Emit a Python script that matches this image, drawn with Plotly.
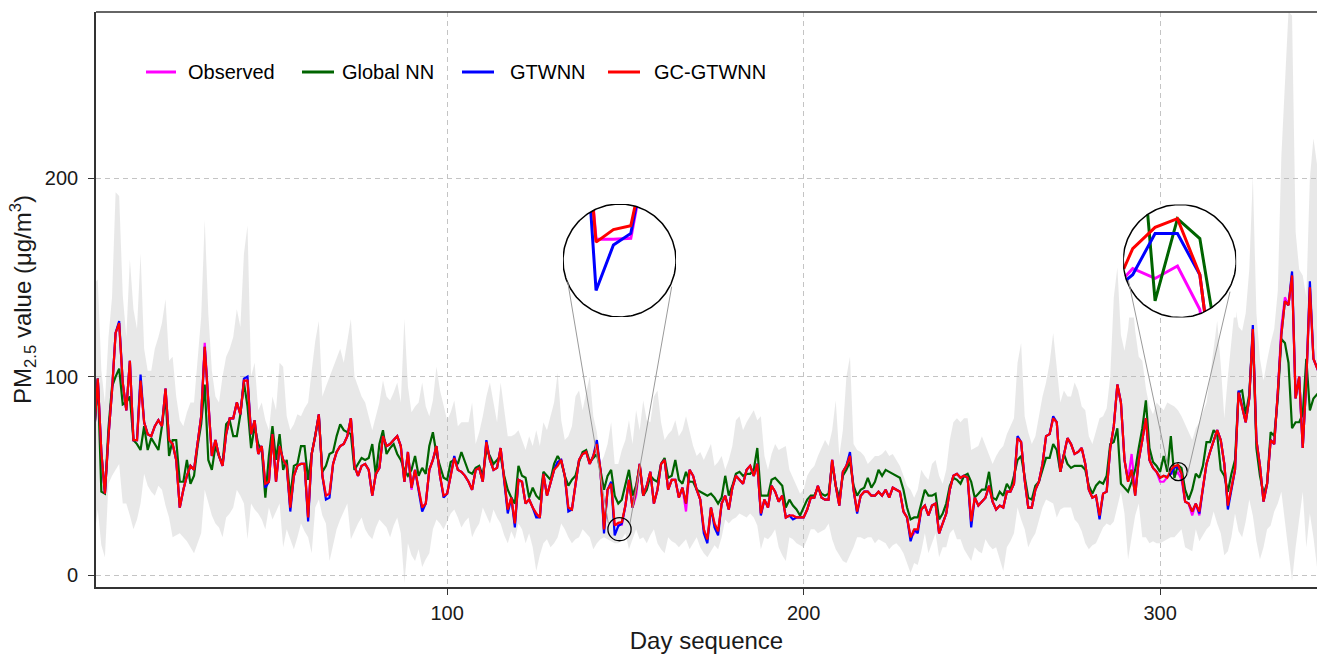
import math
import plotly.graph_objects as go

# ---------------- data ----------------
days = list(range(1, 346))

gc_gtwnn = [
    72, 99, 62, 41, 70, 93, 122, 127, 97, 83,
    108, 68, 68, 98, 77, 71, 70, 75, 78, 75,
    94, 68, 66, 58, 34, 43, 50, 55, 53, 66,
    80, 115, 87, 60, 68, 60, 55, 71, 79, 79,
    87, 81, 98, 98, 71, 78, 61, 65, 46, 47,
    71, 47, 65, 58, 55, 34, 50, 55, 56, 56,
    29, 61, 70, 81, 50, 40, 41, 56, 62, 65,
    66, 70, 79, 55, 50, 55, 56, 53, 40, 51,
    54, 70, 65, 66, 68, 70, 65, 47, 62, 44,
    53, 43, 34, 36, 53, 58, 65, 50, 40, 41,
    51, 59, 53, 52, 50, 47, 43, 53, 54, 47,
    67, 58, 53, 54, 64, 48, 33, 39, 26, 48,
    47, 36, 38, 34, 31, 29, 51, 40, 46, 53,
    55, 58, 50, 34, 33, 45, 58, 61, 62, 56,
    60, 66, 53, 23, 43, 46, 25, 26.3, 26.7, 35,
    48, 34, 43, 56, 40, 45, 52, 36, 43, 56,
    58, 43, 48, 48, 39, 44, 36, 53, 50, 43,
    38, 23, 18, 34, 26, 22, 36, 40, 33, 44,
    50, 48, 46, 53, 55, 50, 56, 31, 38, 34,
    45, 42, 37, 40, 29, 30, 30, 29, 29, 29,
    33, 39, 39, 45, 39, 38, 38, 58, 45, 35,
    52, 55, 60, 43, 32, 40, 42, 42, 40, 40,
    42, 40, 43, 39, 44, 43, 42, 32, 29, 19,
    23, 23, 33, 35, 30, 35, 36, 21, 26, 31,
    43, 50, 51, 49, 50, 49, 27, 39, 35, 37,
    39, 45, 37, 33, 35, 34, 42, 42, 46, 69,
    67, 48, 34, 34, 43, 47, 56, 70, 71, 79,
    77, 52, 60, 69, 66, 61, 62, 64, 56, 43,
    39, 40, 30, 41, 42, 64, 75, 96, 87, 58,
    47, 53, 40, 58, 68, 79, 58, 54, 52, 49,
    50, 49, 53.1, 54.8, 55.5, 51, 37, 36, 32, 36,
    32, 44, 56, 62, 68, 73, 68, 56, 35, 44,
    53, 92, 85, 77, 89, 124, 68, 55, 37, 46,
    68, 66, 92, 121, 138, 136, 151, 89, 100, 64,
    98, 145, 109, 104, 100,
]

observed = [
    72, 99, 62, 41, 70, 93, 122, 127, 97, 83,
    108, 68, 68, 98, 77, 71, 70, 75, 78, 75,
    94, 68, 66, 58, 34, 43, 50, 55, 53, 66,
    80, 117, 87, 60, 68, 60, 55, 71, 79, 79,
    87, 81, 98, 98, 71, 78, 61, 65, 46, 47,
    71, 47, 65, 58, 55, 34, 50, 55, 56, 56,
    29, 61, 70, 81, 50, 40, 41, 56, 62, 65,
    66, 70, 79, 55, 50, 55, 56, 53, 40, 51,
    54, 70, 65, 66, 68, 70, 65, 47, 62, 43,
    53, 43, 34, 36, 53, 58, 65, 50, 40, 41,
    51, 59, 53, 52, 50, 47, 43, 53, 54, 47,
    67, 58, 53, 54, 64, 48, 33, 39, 26, 48,
    47, 36, 38, 34, 31, 29, 51, 40, 46, 53,
    57, 58, 50, 34, 33, 45, 58, 61, 62, 56,
    60, 66, 53, 23, 43, 46, 25.3, 25.3, 25.4, 35,
    48, 34, 40, 56, 40, 45, 52, 36, 43, 56,
    58, 43, 48, 48, 39, 44, 32, 53, 50, 43,
    38, 23, 18, 34, 26, 22, 36, 40, 33, 44,
    50, 48, 46, 53, 55, 50, 56, 31, 38, 34,
    45, 42, 37, 40, 29, 30, 30, 29, 29, 29,
    33, 39, 39, 45, 39, 38, 38, 58, 45, 35,
    52, 55, 60, 43, 32, 40, 42, 42, 40, 40,
    42, 40, 43, 39, 44, 43, 42, 32, 29, 19,
    21, 23, 33, 35, 30, 35, 36, 21, 26, 31,
    43, 50, 51, 49, 50, 49, 27, 39, 35, 37,
    39, 45, 37, 33, 35, 34, 42, 42, 46, 69,
    67, 48, 34, 34, 43, 47, 56, 70, 71, 79,
    77, 52, 60, 69, 66, 61, 62, 64, 56, 43,
    39, 40, 30, 41, 42, 64, 75, 96, 87, 58,
    48, 61, 42, 58, 68, 79, 58, 54, 52, 47,
    47, 49.5, 51.5, 50.7, 51.7, 48.2, 37, 36, 30, 36,
    30, 44, 56, 62, 68, 73, 68, 56, 35, 44,
    53, 92, 85, 77, 89, 124, 68, 55, 37, 46,
    68, 66, 92, 125, 140, 136, 151, 89, 100, 64,
    98, 145, 109, 104, 100,
]

gtwnn = [
    72, 99, 62, 41, 70, 93, 122, 128, 97, 83,
    108, 68, 68, 101, 77, 71, 70, 75, 78, 75,
    94, 68, 66, 58, 34, 43, 50, 55, 53, 66,
    80, 115, 87, 60, 68, 60, 55, 71, 79, 79,
    87, 81, 99, 100, 71, 78, 61, 65, 44, 47,
    71, 47, 65, 58, 55, 32, 50, 55, 56, 56,
    27, 61, 70, 81, 50, 38, 39, 56, 62, 65,
    66, 70, 79, 55, 50, 55, 56, 53, 40, 51,
    54, 70, 65, 66, 68, 70, 65, 47, 62, 44,
    53, 43, 32, 36, 53, 58, 65, 50, 39, 41,
    51, 60, 53, 52, 50, 47, 43, 53, 54, 47,
    68, 58, 53, 54, 64, 48, 31, 39, 24, 48,
    47, 36, 38, 34, 29, 29, 51, 40, 46, 53,
    57, 58, 50, 32, 33, 45, 58, 61, 62, 56,
    60, 68, 53, 21, 43, 47, 20, 24.7, 25.9, 35,
    48, 34, 43, 56, 40, 45, 52, 36, 43, 56,
    58, 43, 48, 48, 39, 44, 36, 53, 50, 43,
    38, 21, 16, 34, 24, 20, 36, 40, 33, 44,
    50, 48, 46, 53, 55, 50, 56, 30, 38, 34,
    45, 42, 37, 40, 29, 30, 28, 29, 29, 29,
    33, 39, 39, 45, 39, 38, 38, 58, 45, 35,
    52, 55, 62, 43, 31, 40, 42, 42, 40, 40,
    42, 40, 43, 39, 44, 43, 42, 32, 29, 17,
    23, 21, 33, 35, 30, 35, 36, 21, 26, 31,
    43, 50, 51, 49, 50, 49, 24, 39, 35, 37,
    39, 45, 37, 33, 35, 34, 42, 42, 46, 70,
    67, 48, 34, 34, 43, 47, 56, 70, 71, 80,
    77, 52, 60, 69, 66, 61, 62, 64, 56, 43,
    39, 40, 28, 41, 42, 64, 75, 96, 87, 58,
    47, 53, 40, 58, 68, 79, 58, 54, 52, 49,
    50, 49.5, 51, 54.3, 54.3, 51, 37, 36, 32, 36,
    31, 44, 56, 62, 68, 73, 68, 56, 33, 44,
    53, 93, 85, 77, 89, 126, 68, 55, 37, 46,
    68, 66, 92, 121, 138, 136, 153, 89, 100, 64,
    98, 148, 109, 104, 100,
]

global_nn = [
    72, 99, 42, 41, 74, 95, 100, 104, 86, 87,
    90, 68, 66, 63, 75, 63, 69, 66, 63, 75,
    90, 60, 68, 68, 47, 47, 58, 46, 50, 65,
    76, 96, 58, 53, 65, 60, 56, 76, 78, 70,
    70, 81, 97, 85, 64, 75, 66, 63, 39, 60,
    75, 58, 71, 53, 58, 39, 55, 56, 65, 65,
    48, 61, 70, 80, 52, 55, 61, 62, 70, 76,
    73, 72, 71, 53, 56, 59, 58, 59, 66, 50,
    66, 73, 61, 64, 66, 61, 58, 53, 50, 53,
    60, 50, 54, 51, 65, 72, 61, 55, 49, 48,
    57, 58, 56, 62, 57, 52, 51, 54, 55, 50,
    63, 60, 56, 58, 60, 50, 43, 39, 36, 55,
    50, 49, 39, 44, 40, 38, 52, 50, 48, 56,
    60, 57, 50, 45, 48, 50, 57, 62, 63, 57,
    59, 61, 53, 43, 50, 53, 40, 36, 38, 46,
    53, 40, 45, 55, 40, 43, 50, 48, 47, 56,
    59, 49, 50, 58, 48, 46, 52, 47, 47, 43,
    42, 41, 40, 41, 39, 36, 39, 50, 40, 45,
    51, 52, 50, 51, 51, 53, 64, 40, 40, 40,
    48, 49, 47, 45, 34, 38, 35, 33, 30, 34,
    38, 40, 40, 44, 41, 40, 41, 56, 45, 39,
    50, 53, 57, 45, 40, 43, 44, 49, 44, 47,
    53, 50, 53, 52, 51, 50, 49, 43, 34, 28,
    29, 29, 36, 43, 40, 40, 41, 28, 31, 36,
    45, 49, 48, 46, 50, 51, 47, 39, 41, 43,
    43, 52, 39, 38, 42, 40, 46, 43, 50, 58,
    60, 50, 39, 38, 45, 47, 53, 59, 59, 66,
    63, 52, 61, 56, 54, 55, 55, 55, 53, 45,
    41, 45, 47, 46, 50, 66, 67, 74, 46, 44,
    42, 47, 53, 64, 74, 88, 64, 57, 55, 52,
    60, 52, 70, 48.9, 55.5, 53.9, 43, 38, 43, 51,
    49, 55, 67, 67, 73, 71, 53, 50, 42, 51,
    58, 92, 93, 81, 91, 122, 64, 50, 41, 46,
    72, 70, 89, 119, 117, 107, 74, 77, 77, 81,
    109, 83, 89, 91, 88,
]

band_upper = [
    147, 149, 103, 87, 120, 140, 193, 191, 141, 120,
    159, 134, 124, 162, 114, 103, 103, 114, 120, 127,
    139, 108, 110, 90, 78, 75, 82, 87, 87, 110,
    130, 179, 132, 103, 90, 87, 100, 110, 114, 120,
    134, 125, 162, 176, 100, 107, 83, 87, 78, 73,
    90, 83, 107, 105, 80, 73, 76, 81, 80, 84,
    87, 103, 118, 128, 90, 95, 100, 105, 110, 114,
    107, 118, 129, 100, 95, 90, 87, 80, 73, 80,
    87, 98, 90, 88, 92, 97, 87, 129, 95, 82,
    85, 87, 97, 85, 80, 88, 105, 93, 85, 78,
    82, 88, 75, 77, 77, 77, 87, 66, 72, 80,
    90, 97, 87, 77, 97, 83, 70, 70, 71, 73,
    68, 63, 70, 65, 73, 65, 77, 73, 80, 87,
    102, 78, 68, 70, 75, 90, 93, 83, 92, 100,
    80, 72, 56, 60, 66, 77, 56, 56, 63, 68,
    78, 66, 83, 73, 88, 78, 77, 90, 93, 77,
    68, 71, 73, 78, 70, 73, 80, 72, 65, 60,
    62, 58, 62, 66, 55, 57, 60, 53, 58, 65,
    78, 80, 73, 77, 80, 83, 78, 80, 60, 53,
    61, 66, 63, 64, 65, 53, 49, 45, 41, 43,
    50, 53, 55, 60, 64, 68, 65, 73, 88, 60,
    73, 100, 110, 66, 63, 62, 60, 56, 58, 60,
    60, 61, 63, 60, 61, 58, 55, 50, 45, 43,
    39, 43, 53, 50, 48, 56, 58, 50, 46, 53,
    68, 77, 79, 77, 79, 79, 63, 64, 65, 70,
    65, 61, 56, 60, 63, 65, 71, 75, 79, 107,
    117, 80, 72, 66, 70, 80, 90, 97, 107, 122,
    103, 87, 93, 90, 90, 97, 93, 85, 83, 70,
    66, 72, 79, 80, 84, 100, 140, 155, 121, 113,
    124, 143, 123, 110, 108, 94, 85, 81, 87, 85,
    83, 87, 86, 85, 83, 80, 76, 72, 68, 74,
    77, 82, 87, 100, 115, 128, 106, 79, 100, 117,
    136, 125, 123, 132, 154, 201, 132, 109, 98, 108,
    117, 124, 143, 211, 248, 284, 282, 173, 154, 151,
    140, 200, 220, 207, 140,
]

band_lower = [
    19, 33, 15, 9, 46, 50, 53, 56, 36, 36,
    30, 23, 28, 36, 51, 45, 42, 40, 45, 43,
    35, 29, 19, 20, 21, 19, 17, 14, 11, 16,
    21, 43, 36, 30, 26, 24, 19, 29, 31, 34,
    43, 40, 36, 18, 36, 33, 31, 28, 23, 34,
    28, 32, 36, 14, 23, 18, 13, 19, 26, 22,
    19, 11, 34, 38, 30, 26, 7, 15, 23, 28,
    32, 36, 18, 22, 26, 29, 23, 20, 18, 24,
    28, 26, 24, 19, 25, 29, 21, -4, 16, 10,
    7, 13, 4, 8, 11, 23, 28, 26, 23, 27,
    31, 33, 29, 24, 27, 29, 19, 23, 26, 34,
    30, 26, 33, 29, 26, 20, 16, 22, 18, 26,
    23, 16, 21, 14, 2, 10, 16, 18, 14, 16,
    19, 26, 23, 19, 16, 18, 19, 23, 21, 19,
    13, 16, 18, 19, 18, 17, 16, 16, 18, 21,
    13, 18, 23, 18, 19, 16, 20, 23, 16, 13,
    11, 19, 17, 16, 14, 16, 18, 13, 16, 19,
    14, 11, 9, 12, 15, 13, 19, 28, 26, 28,
    29, 31, 30, 29, 31, 29, 25, 13, 19, 18,
    20, 23, 14, 10, 7, 19, 18, 16, 15, 14,
    18, 23, 23, 21, 22, 23, 26, 18, 13, 10,
    7, 6, 10, 14, 19, 19, 18, 19, 19, 16,
    18, 17, 16, 13, 15, 16, 14, 11, 6, 1,
    6, 5, 12, 21, 11, 16, 21, 9, 14, 14,
    21, 23, 18, 18, 13, 10, 7, 14, 12, 11,
    18, 15, 13, 14, 8, 2, 14, 17, 21, 34,
    28, 23, 14, 18, 21, 28, 34, 38, 37, 36,
    29, 33, 34, 34, 34, 28, 26, 22, 16, 13,
    15, 16, 20, 24, 26, 25, 27, 35, 42, 31,
    8, 19, 30, 36, 19, 19, 16, 17, 16, 16,
    17, 18, 19, 19, 21, 23, 14, 13, 12, 23,
    17, 20, 23, 25, 32, 26, 21, 10, 12, 19,
    31, 22, 19, 27, 38, 30, 17, 8, 14, 23,
    25, 32, 36, 42, 27, 14, -3, 14, 27, 42,
    14, 31, 19, 4, 10,
]

x_ticks = [100, 200, 300]
y_ticks = [0, 100, 200]
series_names = ["Observed", "Global NN", "GTWNN", "GC-GTWNN"]
series_colors = ["#FF00FF", "#006400", "#0000FF", "#FF0000"]
series_values = [observed, global_nn, gtwnn, gc_gtwnn]

# zoom windows (day, value at the centre of each small circle)
zoom_days = [148.35, 305.1]
zoom_values = [23.1, 52.1]

# ---------------- layout geometry ----------------
FIG_W, FIG_H = 1317, 657
M_L, M_R, M_T, M_B = 96, 0, 12, 70
PLOT_W = FIG_W - M_L - M_R
PLOT_H = FIG_H - M_T - M_B
X_RANGE = [1.5, 344.0]
Y_RANGE = [-6.05, 283.8]
px_day = PLOT_W / (X_RANGE[1] - X_RANGE[0])
px_val = PLOT_H / (Y_RANGE[1] - Y_RANGE[0])

FONT = "Liberation Sans, Arial, Helvetica, sans-serif"
FRAME = "#333333"


def px2paper(px, py):
    return (px - M_L) / PLOT_W, (M_T + PLOT_H - py) / PLOT_H


inset_geom = [
    dict(r_small=11.6, cx=619.5, cy=260.5, r_big=56.5,
         conn=[((567.7, 281.7), (608.3, 523.3)), ((671.7, 286.7), (630.0, 523.3))]),
    dict(r_small=9.0, cx=1179.7, cy=261.0, r_big=56.5,
         conn=[((1128.3, 280.0), (1169.3, 473.3)), ((1230.0, 291.7), (1187.3, 475.0))]),
]


def clip_to_circle(xs, ys, cx, cy, hx, hy):
    ox, oy = [], []
    last = None
    for i in range(len(xs) - 1):
        p = ((xs[i] - cx) / hx, (ys[i] - cy) / hy)
        q = ((xs[i + 1] - cx) / hx, (ys[i + 1] - cy) / hy)
        dx, dy = q[0] - p[0], q[1] - p[1]
        a = dx * dx + dy * dy
        b = p[0] * dx + p[1] * dy
        c = p[0] ** 2 + p[1] ** 2 - 1
        disc = b * b - a * c
        if a == 0 or disc <= 0:
            continue
        s = disc ** 0.5
        t0 = max(0.0, (-b - s) / a)
        t1 = min(1.0, (-b + s) / a)
        if t0 >= t1:
            continue
        a0 = (p[0] + t0 * dx, p[1] + t0 * dy)
        a1 = (p[0] + t1 * dx, p[1] + t1 * dy)
        if last is None or abs(last[0] - a0[0]) > 1e-9 or abs(last[1] - a0[1]) > 1e-9:
            if ox:
                ox.append(None)
                oy.append(None)
            ox.append(cx + a0[0] * hx)
            oy.append(cy + a0[1] * hy)
        ox.append(cx + a1[0] * hx)
        oy.append(cy + a1[1] * hy)
        last = a1
    return ox, oy


fig = go.Figure()

# uncertainty band
fig.add_trace(go.Scatter(x=days, y=band_lower, mode="lines", line=dict(width=0),
                         hoverinfo="skip", showlegend=False))
fig.add_trace(go.Scatter(x=days, y=band_upper, mode="lines", line=dict(width=0),
                         fill="tonexty", fillcolor="rgba(180,180,180,0.30)",
                         hoverinfo="skip", showlegend=False))

for name, col, vals in zip(series_names, series_colors, series_values):
    fig.add_trace(go.Scatter(x=days, y=vals, mode="lines", name=name,
                             line=dict(color=col, width=2.2), showlegend=False))

# ---------------- magnified insets ----------------
theta = [2 * math.pi * k / 240 for k in range(241)]
shapes = []
for k, (zd, zv, g) in enumerate(zip(zoom_days, zoom_values, inset_geom), start=2):
    hx = g["r_small"] / px_day
    hy = g["r_small"] / px_val
    x0p, y1p = px2paper(g["cx"] - g["r_big"], g["cy"] - g["r_big"])
    x1p, y0p = px2paper(g["cx"] + g["r_big"], g["cy"] + g["r_big"])
    xa, ya = "x%d" % k, "y%d" % k
    fig.layout["xaxis%d" % k] = dict(domain=[x0p, x1p], anchor=ya, range=[zd - hx, zd + hx],
                                     visible=False, fixedrange=True)
    fig.layout["yaxis%d" % k] = dict(domain=[y0p, y1p], anchor=xa, range=[zv - hy, zv + hy],
                                     visible=False, fixedrange=True)
    cxs = [zd + hx * math.cos(t) for t in theta]
    cys = [zv + hy * math.sin(t) for t in theta]
    fig.add_trace(go.Scatter(x=cxs, y=cys, mode="lines", fill="toself", fillcolor="white",
                             line=dict(width=0), xaxis=xa, yaxis=ya, hoverinfo="skip",
                             showlegend=False))
    for name, col, vals in zip(series_names, series_colors, series_values):
        lx, ly = clip_to_circle(days, vals, zd, zv, hx, hy)
        fig.add_trace(go.Scatter(x=lx, y=ly, mode="lines", line=dict(color=col, width=3),
                                 xaxis=xa, yaxis=ya, hoverinfo="skip", showlegend=False,
                                 connectgaps=False))
    fig.add_trace(go.Scatter(x=cxs, y=cys, mode="lines", line=dict(color="black", width=1.5),
                             xaxis=xa, yaxis=ya, hoverinfo="skip", showlegend=False))
    # small circle on the main axes
    shapes.append(dict(type="circle", xref="x", yref="y", xsizemode="pixel", ysizemode="pixel",
                       xanchor=zd, yanchor=zv, x0=-g["r_small"], x1=g["r_small"],
                       y0=-g["r_small"], y1=g["r_small"], line=dict(color="black", width=1.3),
                       layer="above"))
    for (pa, pb) in g["conn"]:
        ax_, ay_ = px2paper(*pa)
        bx_, by_ = px2paper(*pb)
        shapes.append(dict(type="line", xref="paper", yref="paper", x0=ax_, y0=ay_,
                           x1=bx_, y1=by_, line=dict(color="#9a9a9a", width=1), layer="above"))

# top border of the panel
shapes.append(dict(type="line", xref="paper", yref="paper", x0=0, x1=1, y0=1, y1=1,
                   line=dict(color=FRAME, width=1.6), layer="above"))

# ---------------- legend (drawn manually) ----------------
legend_line_px = [(146, 176), (302, 334), (462, 494), (608, 640)]
legend_text_px = [186, 340, 508, 652]
legend_y_px = 72
annotations = []
for (lx0, lx1), tx, name, col in zip(legend_line_px, legend_text_px, series_names, series_colors):
    px0, py_ = px2paper(lx0, legend_y_px)
    px1, _ = px2paper(lx1, legend_y_px)
    shapes.append(dict(type="line", xref="paper", yref="paper", x0=px0, x1=px1, y0=py_, y1=py_,
                       line=dict(color=col, width=3), layer="above"))
    tpx, _ = px2paper(tx, legend_y_px)
    annotations.append(dict(x=tpx, y=py_, xref="paper", yref="paper", text=name,
                            showarrow=False, xanchor="left", yanchor="middle",
                            font=dict(family=FONT, size=20, color="black")))

fig.update_layout(
    width=FIG_W, height=FIG_H,
    margin=dict(l=M_L, r=M_R, t=M_T, b=M_B, pad=0),
    paper_bgcolor="white", plot_bgcolor="white",
    font=dict(family=FONT, color="#1a1a1a"),
    showlegend=False,
    shapes=shapes,
    annotations=annotations,
    xaxis=dict(range=X_RANGE, tickvals=x_ticks, ticks="outside", ticklen=6, tickwidth=1.3,
               tickcolor=FRAME, showline=True, linecolor=FRAME, linewidth=1.6,
               showgrid=True, gridcolor="#c4c4c4", gridwidth=1, griddash="5px,4px",
               zeroline=False, tickfont=dict(size=20, color="#1a1a1a"),
               ticklabelstandoff=1,
               title=dict(text="Day sequence", font=dict(size=24, color="#1a1a1a"), standoff=9)),
    yaxis=dict(range=Y_RANGE, tickvals=y_ticks, ticks="outside", ticklen=6, tickwidth=1.3,
               tickcolor=FRAME, showline=True, linecolor=FRAME, linewidth=1.6,
               showgrid=True, gridcolor="#c4c4c4", gridwidth=1, griddash="5px,4px",
               zeroline=False, tickfont=dict(size=20, color="#1a1a1a"),
               ticklabelstandoff=6,
               title=dict(text="PM<sub>2.5</sub> value (μg/m<sup>3</sup>)",
                          font=dict(size=24, color="#1a1a1a"), standoff=6)),
)

fig.write_html("out.html")
